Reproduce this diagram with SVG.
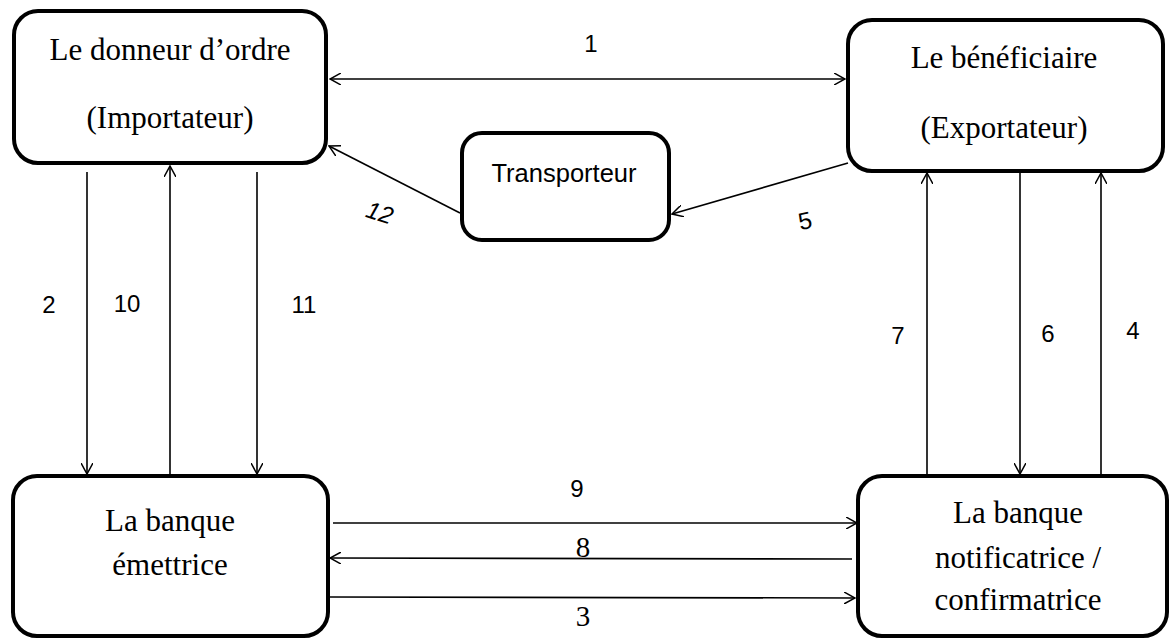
<svg xmlns="http://www.w3.org/2000/svg" width="1171" height="639" viewBox="0 0 1171 639">
  <style>
    .box { fill: #fff; stroke: #000; stroke-width: 4; }
    .serif { font-family: 'Liberation Serif', 'DejaVu Serif', serif; font-size: 31px; fill: #000; text-anchor: middle; }
    .sans { font-family: 'Liberation Sans', sans-serif; font-size: 25.5px; fill: #000; text-anchor: middle; }
    .num { font-family: 'Liberation Sans', sans-serif; font-size: 24px; fill: #000; text-anchor: middle; }
    .numserif { font-family: 'Liberation Serif', 'DejaVu Serif', serif; font-size: 29px; fill: #000; text-anchor: middle; }
    .link { stroke: #000; stroke-width: 1.6; fill: none; marker-end: url(#arrow); }
  </style>
  <defs>
    <marker id="arrow" viewBox="0 0 12 12" refX="11" refY="6" markerWidth="12" markerHeight="12" markerUnits="userSpaceOnUse" orient="auto-start-reverse">
      <path d="M0,0 L11,6 L0,12" fill="none" stroke="#000" stroke-width="1.5"/>
    </marker>
  </defs>

  <g id="connectors">
    <!-- 1: donneur d'ordre <-> bénéficiaire -->
    <line class="link" x1="330" y1="79" x2="845" y2="79" style="marker-start:url(#arrow)"/>
    <text class="num" x="591" y="52">1</text>
    <!-- 12: transporteur -> donneur d'ordre -->
    <line class="link" x1="460" y1="213" x2="329" y2="146"/>
    <text class="num" x="380" y="221" font-style="italic" transform="rotate(18 380 212)">12</text>
    <!-- 5: bénéficiaire -> transporteur -->
    <line class="link" x1="848" y1="163" x2="672" y2="214"/>
    <text class="num" x="805" y="229" transform="rotate(-12 805 220)">5</text>
    <!-- left verticals -->
    <line class="link" x1="87" y1="172" x2="87" y2="474"/>
    <text class="num" x="49" y="313">2</text>
    <line class="link" x1="170" y1="474" x2="170" y2="166"/>
    <text class="num" x="127" y="312">10</text>
    <line class="link" x1="257" y1="172" x2="257" y2="474"/>
    <text class="num" x="304" y="313">11</text>
    <!-- right verticals -->
    <line class="link" x1="927" y1="474" x2="927" y2="173"/>
    <text class="num" x="898" y="344">7</text>
    <line class="link" x1="1020" y1="172" x2="1020" y2="474"/>
    <text class="num" x="1048" y="342">6</text>
    <line class="link" x1="1101" y1="474" x2="1101" y2="173"/>
    <text class="num" x="1133" y="339">4</text>
    <!-- bottom horizontals -->
    <line class="link" x1="333" y1="523" x2="857" y2="523"/>
    <text class="num" x="577" y="497">9</text>
    <line class="link" x1="852" y1="559" x2="330" y2="558"/>
    <text class="numserif" x="583" y="557">8</text>
    <line class="link" x1="330" y1="597" x2="855" y2="598"/>
    <text class="numserif" x="583" y="626">3</text>
  </g>

  <g id="donneur">
    <rect class="box" x="14" y="11" width="312" height="152" rx="24"/>
    <text class="serif" x="170" y="60">Le donneur d’ordre</text>
    <text class="serif" x="170" y="128">(Importateur)</text>
  </g>

  <g id="beneficiaire">
    <rect class="box" x="848" y="20" width="315" height="151" rx="24"/>
    <text class="serif" x="1004" y="68">Le bénéficiaire</text>
    <text class="serif" x="1004" y="138">(Exportateur)</text>
  </g>

  <g id="transporteur">
    <rect class="box" x="462" y="133" width="207" height="107" rx="20"/>
    <text class="sans" x="564" y="182">Transporteur</text>
  </g>

  <g id="emettrice">
    <rect class="box" x="13" y="476" width="315" height="160" rx="24"/>
    <text class="serif" x="170" y="531">La banque</text>
    <text class="serif" x="170" y="575">émettrice</text>
  </g>

  <g id="notificatrice">
    <rect class="box" x="858" y="476" width="309" height="160" rx="24"/>
    <text class="serif" x="1018" y="523">La banque</text>
    <text class="serif" x="1018" y="568">notificatrice /</text>
    <text class="serif" x="1018" y="610">confirmatrice</text>
  </g>
</svg>
